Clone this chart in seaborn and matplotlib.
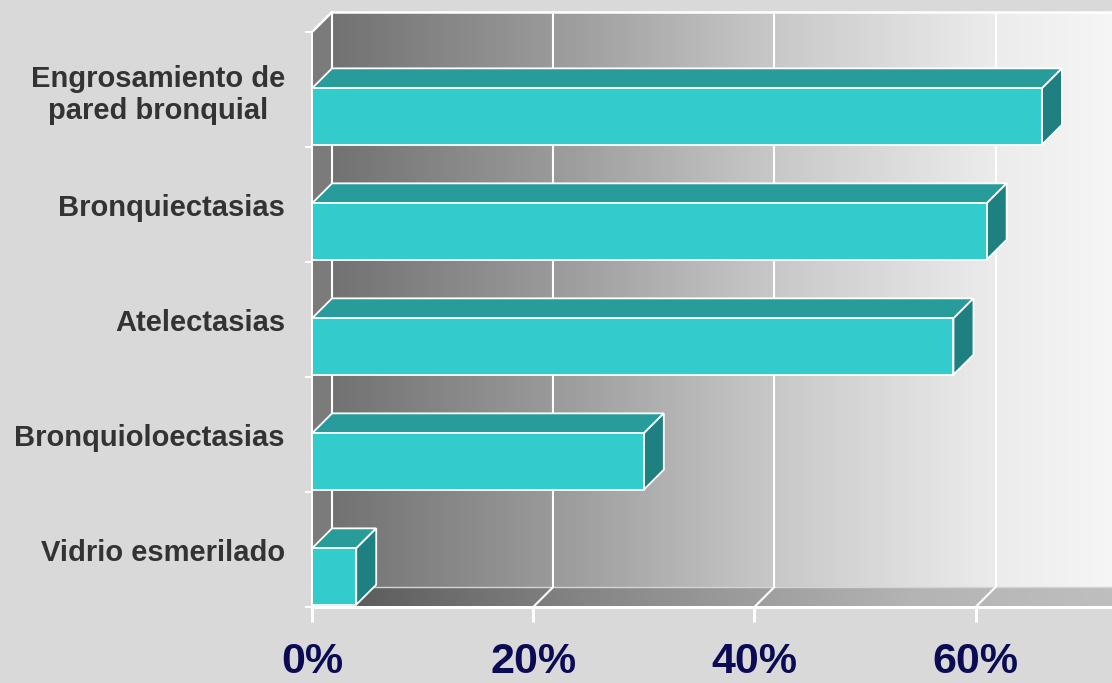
import numpy as np
import pandas as pd
import seaborn as sns
import matplotlib
matplotlib.use("Agg")
import matplotlib.pyplot as plt
from matplotlib.patches import Polygon
from matplotlib.colors import LinearSegmentedColormap

# ---- data ----
categories = ["Engrosamiento de\npared bronquial", "Bronquiectasias", "Atelectasias",
              "Bronquioloectasias", "Vidrio esmerilado"]
values = [66, 61, 58, 30, 4]
x_ticks = [0, 20, 40, 60]
x_tick_labels = ["0%", "20%", "40%", "60%"]

# ---- layout / style ----
W, H, DPI = 1112, 683, 100
DX, DY = 20, 20          # 3D depth offset (pixels)
SHIFT = 0.235            # bars sit in the lower part of each slot
BAR_W = 0.49
X_MAX = 80
FRONT_L, FRONT_B, FRONT_H = 312, 76, 575
PX_PER_UNIT = 11.06
PT = 72 / DPI            # points per pixel

FACE = "#33cccc"
TOP = "#289b9b"
SIDE = "#1e8080"
FIG_BG = "#d9d9d9"

sns.set_theme(style="white")
plt.rcParams["font.family"] = ["Liberation Sans", "DejaVu Sans"]

fig = plt.figure(figsize=(W / DPI, H / DPI), dpi=DPI, facecolor=FIG_BG)

bg = fig.add_axes([0, 0, 1, 1], zorder=0)
bg.set_xlim(0, W)
bg.set_ylim(0, H)
bg.axis("off")
bg.set_facecolor(FIG_BG)

front_w = X_MAX * PX_PER_UNIT
ax = fig.add_axes([FRONT_L / W, FRONT_B / H, front_w / W, FRONT_H / H], zorder=1)
ax.set_facecolor("none")

df = pd.DataFrame({"cat": categories, "val": values})
sns.barplot(data=df, x="val", y="cat", orient="h", color=FACE, saturation=1,
            width=BAR_W, edgecolor="white", linewidth=1.3, ax=ax)
n = len(categories)
ax.set_xlim(0, X_MAX)
ax.set_ylim(n - 0.5 - SHIFT, -0.5 - SHIFT)

# ---- frame geometry in pixels ----
(fl, fb), (fr, ft) = ax.transAxes.transform([(0, 0), (1, 1)])

# back wall gradient
wall_cmap = LinearSegmentedColormap.from_list(
    "wall", ["#727272", "#9a9a9a", "#c8c8c8", "#ececec", "#fefefe"])
grad = np.linspace(0, 1, 512).reshape(1, -1)
bg.imshow(grad, extent=[fl + DX, fr + DX, fb + DY, ft + DY], cmap=wall_cmap,
          aspect="auto", zorder=0, interpolation="bilinear")

# left wall
bg.add_patch(Polygon([(fl, fb), (fl, ft), (fl + DX, ft + DY), (fl + DX, fb + DY)],
                     closed=True, facecolor="#7b7b7b", edgecolor="none", zorder=1))

# floor gradient clipped to parallelogram
floor_poly = Polygon([(fl, fb), (fr, fb), (fr + DX, fb + DY), (fl + DX, fb + DY)],
                     closed=True, facecolor="none", edgecolor="none", zorder=1)
bg.add_patch(floor_poly)
floor_cmap = LinearSegmentedColormap.from_list("floor", ["#555555", "#8a8a8a", "#b4b4b4", "#c4c4c4"])
fim = bg.imshow(grad, extent=[fl, fr + DX, fb, fb + DY], cmap=floor_cmap,
                aspect="auto", zorder=1, interpolation="bilinear")
fim.set_clip_path(floor_poly)

# floor back edge
bg.plot([fl + DX, fr + DX], [fb + DY, fb + DY], color="#d4d4d4", lw=1.0, zorder=2)

# grid lines on wall and floor
for t in x_ticks:
    xd = ax.transData.transform((t, 0))[0]
    bg.plot([xd + DX, xd + DX], [fb + DY, ft + DY], color="white", lw=1.5, zorder=2)
    bg.plot([xd, xd + DX], [fb, fb + DY], color="white", lw=1.5, zorder=2)

# top edges of walls
bg.plot([fl, fl + DX], [ft, ft + DY], color="white", lw=1.8, zorder=2)
bg.plot([fl + DX, W + 50], [ft + DY, ft + DY], color="white", lw=1.8, zorder=2)

# ---- 3D faces of bars ----
for p in list(ax.patches):
    x0, y0 = p.get_x(), p.get_y()
    w, h = p.get_width(), p.get_height()
    (px0, pya), (px1, pyb) = ax.transData.transform([(x0, y0), (x0 + w, y0 + h)])
    ytop, ybot = max(pya, pyb), min(pya, pyb)
    top = Polygon([(px0, ytop), (px1, ytop), (px1 + DX, ytop + DY), (px0 + DX, ytop + DY)],
                  closed=True, facecolor=TOP, edgecolor="white", lw=1.3,
                  transform=bg.transData, clip_on=False, zorder=3)
    side = Polygon([(px1, ybot), (px1, ytop), (px1 + DX, ytop + DY), (px1 + DX, ybot + DY)],
                   closed=True, facecolor=SIDE, edgecolor="white", lw=1.3,
                   transform=bg.transData, clip_on=False, zorder=3)
    ax.add_artist(top)
    ax.add_artist(side)
    p.set_zorder(4)

ax.set_xlim(0, X_MAX)
ax.set_ylim(n - 0.5 - SHIFT, -0.5 - SHIFT)

# ---- spines / ticks ----
for s in ["top", "right"]:
    ax.spines[s].set_visible(False)
ax.spines["left"].set_color("white")
ax.spines["left"].set_linewidth(2 * PT)
ax.spines["bottom"].set_color("white")
ax.spines["bottom"].set_linewidth(3 * PT)
for s in ["left", "bottom"]:
    ax.spines[s].set_zorder(5)

ax.set_xticks(x_ticks)
ax.set_xticklabels(x_tick_labels)
ax.tick_params(axis="x", bottom=True, direction="out", length=15 * PT, width=3 * PT,
               color="white", labelsize=31, labelcolor="#0b0b55", pad=20 * PT)
for lab in ax.get_xticklabels():
    lab.set_fontweight("bold")

ax.set_yticks([i - SHIFT for i in range(n)])
ax.set_yticklabels(categories)
ax.set_yticks([i - SHIFT - 0.5 for i in range(n + 1)], minor=True)
ax.tick_params(axis="y", which="major", left=True, length=0, pad=27 * PT,
               labelsize=21, labelcolor="#333333")
ax.tick_params(axis="y", which="minor", left=True, direction="out", length=7 * PT,
               width=2 * PT, color="white")
for lab in ax.get_yticklabels():
    lab.set_fontweight("bold")
    lab.set_multialignment("center")

ax.set_xlabel("")
ax.set_ylabel("")

fig.savefig("out.png", dpi=DPI, facecolor=FIG_BG)
